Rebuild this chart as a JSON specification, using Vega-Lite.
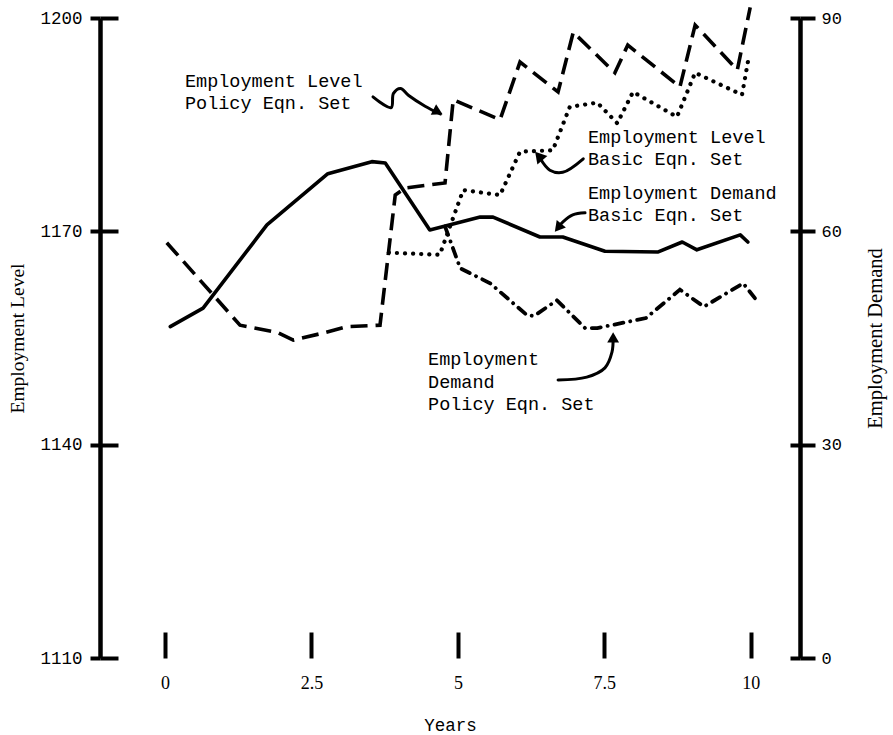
{
  "$schema": "https://vega.github.io/schema/vega-lite/v6.json",
  "width": 700,
  "height": 640,
  "autosize": {"type": "none"},
  "padding": {"left": 100, "top": 18, "right": 93, "bottom": 77},
  "background": "white",
  "config": {
    "view": {"stroke": null},
    "axis": {"grid": false, "domainColor": "black", "tickColor": "black", "labelColor": "black", "titleColor": "black"}
  },
  "datasets": {
    "lines": [
      {"series": "LP", "i": 0, "year": 0.03, "value": 1168.4},
      {"series": "LP", "i": 1, "year": 1.28, "value": 1156.8},
      {"series": "LP", "i": 2, "year": 1.91, "value": 1155.8},
      {"series": "LP", "i": 3, "year": 2.19, "value": 1154.7},
      {"series": "LP", "i": 4, "year": 2.70, "value": 1155.7},
      {"series": "LP", "i": 5, "year": 3.11, "value": 1156.6},
      {"series": "LP", "i": 6, "year": 3.67, "value": 1156.8},
      {"series": "LP", "i": 7, "year": 3.93, "value": 1175.1},
      {"series": "LP", "i": 8, "year": 4.10, "value": 1176.1},
      {"series": "LP", "i": 9, "year": 4.78, "value": 1176.8},
      {"series": "LP", "i": 10, "year": 4.92, "value": 1188.5},
      {"series": "LP", "i": 11, "year": 5.72, "value": 1185.7},
      {"series": "LP", "i": 12, "year": 6.06, "value": 1193.8},
      {"series": "LP", "i": 13, "year": 6.71, "value": 1189.6},
      {"series": "LP", "i": 14, "year": 6.97, "value": 1198.0},
      {"series": "LP", "i": 15, "year": 7.68, "value": 1192.3},
      {"series": "LP", "i": 16, "year": 7.90, "value": 1196.2},
      {"series": "LP", "i": 17, "year": 8.79, "value": 1190.3},
      {"series": "LP", "i": 18, "year": 9.05, "value": 1199.0},
      {"series": "LP", "i": 19, "year": 9.77, "value": 1192.7},
      {"series": "LP", "i": 20, "year": 9.99, "value": 1201.5},
      {"series": "LB", "i": 0, "year": 3.82, "value": 1167.0},
      {"series": "LB", "i": 1, "year": 4.69, "value": 1166.7},
      {"series": "LB", "i": 2, "year": 5.09, "value": 1175.8},
      {"series": "LB", "i": 3, "year": 5.72, "value": 1175.1},
      {"series": "LB", "i": 4, "year": 6.06, "value": 1181.2},
      {"series": "LB", "i": 5, "year": 6.62, "value": 1181.4},
      {"series": "LB", "i": 6, "year": 6.91, "value": 1187.5},
      {"series": "LB", "i": 7, "year": 7.38, "value": 1188.1},
      {"series": "LB", "i": 8, "year": 7.72, "value": 1185.2},
      {"series": "LB", "i": 9, "year": 7.99, "value": 1189.6},
      {"series": "LB", "i": 10, "year": 8.74, "value": 1186.1},
      {"series": "LB", "i": 11, "year": 9.05, "value": 1192.3},
      {"series": "LB", "i": 12, "year": 9.85, "value": 1189.2},
      {"series": "LB", "i": 13, "year": 9.95, "value": 1193.8},
      {"series": "DB", "i": 0, "year": 0.09, "value": 46.6},
      {"series": "DB", "i": 1, "year": 0.65, "value": 49.2},
      {"series": "DB", "i": 2, "year": 1.74, "value": 60.9},
      {"series": "DB", "i": 3, "year": 2.78, "value": 68.1},
      {"series": "DB", "i": 4, "year": 3.53, "value": 69.8},
      {"series": "DB", "i": 5, "year": 3.76, "value": 69.6},
      {"series": "DB", "i": 6, "year": 4.52, "value": 60.2},
      {"series": "DB", "i": 7, "year": 5.38, "value": 62.0},
      {"series": "DB", "i": 8, "year": 5.60, "value": 62.0},
      {"series": "DB", "i": 9, "year": 6.40, "value": 59.2},
      {"series": "DB", "i": 10, "year": 6.79, "value": 59.2},
      {"series": "DB", "i": 11, "year": 7.51, "value": 57.2},
      {"series": "DB", "i": 12, "year": 8.42, "value": 57.1},
      {"series": "DB", "i": 13, "year": 8.83, "value": 58.5},
      {"series": "DB", "i": 14, "year": 9.08, "value": 57.4},
      {"series": "DB", "i": 15, "year": 9.82, "value": 59.5},
      {"series": "DB", "i": 16, "year": 9.95, "value": 58.5},
      {"series": "DP", "i": 0, "year": 4.78, "value": 60.7},
      {"series": "DP", "i": 1, "year": 5.04, "value": 54.8},
      {"series": "DP", "i": 2, "year": 5.55, "value": 52.7},
      {"series": "DP", "i": 3, "year": 6.18, "value": 48.2},
      {"series": "DP", "i": 4, "year": 6.30, "value": 48.1},
      {"series": "DP", "i": 5, "year": 6.69, "value": 50.3},
      {"series": "DP", "i": 6, "year": 7.17, "value": 46.4},
      {"series": "DP", "i": 7, "year": 7.38, "value": 46.4},
      {"series": "DP", "i": 8, "year": 8.21, "value": 47.8},
      {"series": "DP", "i": 9, "year": 8.79, "value": 51.8},
      {"series": "DP", "i": 10, "year": 9.20, "value": 49.4},
      {"series": "DP", "i": 11, "year": 9.87, "value": 52.7},
      {"series": "DP", "i": 12, "year": 10.07, "value": 50.6}
    ],
    "arrows": [
      {"arrow": "a1", "i": 0, "year": 3.55, "value": 1188.9},
      {"arrow": "a1", "i": 1, "year": 3.86, "value": 1187.4},
      {"arrow": "a1", "i": 2, "year": 3.90, "value": 1189.4},
      {"arrow": "a1", "i": 3, "year": 4.02, "value": 1190.1},
      {"arrow": "a1", "i": 4, "year": 4.16, "value": 1189.1},
      {"arrow": "a1", "i": 5, "year": 4.44, "value": 1187.6},
      {"arrow": "a1", "i": 6, "year": 4.70, "value": 1186.5},
      {"arrow": "a2", "i": 0, "year": 7.14, "value": 1180.2},
      {"arrow": "a2", "i": 1, "year": 6.79, "value": 1178.3},
      {"arrow": "a2", "i": 2, "year": 6.57, "value": 1178.6},
      {"arrow": "a2", "i": 3, "year": 6.40, "value": 1180.3},
      {"arrow": "a3", "i": 0, "year": 7.17, "value": 1172.6},
      {"arrow": "a3", "i": 1, "year": 6.96, "value": 1172.3},
      {"arrow": "a3", "i": 2, "year": 6.79, "value": 1171.3},
      {"arrow": "a3", "i": 3, "year": 6.70, "value": 1170.5},
      {"arrow": "a4", "i": 0, "year": 6.71, "value": 1149.1},
      {"arrow": "a4", "i": 1, "year": 7.20, "value": 1149.5},
      {"arrow": "a4", "i": 2, "year": 7.51, "value": 1150.8},
      {"arrow": "a4", "i": 3, "year": 7.63, "value": 1153.0},
      {"arrow": "a4", "i": 4, "year": 7.65, "value": 1155.1}
    ],
    "heads": [
      {"arrow": "a1", "year": 4.66, "value": 1186.8},
      {"arrow": "a2", "year": 6.38, "value": 1180.6},
      {"arrow": "a3", "year": 6.71, "value": 1170.5},
      {"arrow": "a4", "year": 7.65, "value": 1155.1}
    ],
    "notes": [
      {"year": 0.34, "value": 1191.2, "label": "Employment Level"},
      {"year": 0.34, "value": 1188.1, "label": "Policy Eqn. Set"},
      {"year": 7.22, "value": 1183.3, "label": "Employment Level"},
      {"year": 7.22, "value": 1180.2, "label": "Basic Eqn. Set"},
      {"year": 7.22, "value": 1175.4, "label": "Employment Demand"},
      {"year": 7.22, "value": 1172.3, "label": "Basic Eqn. Set"},
      {"year": 4.49, "value": 1152.1, "label": "Employment"},
      {"year": 4.49, "value": 1148.8, "label": "Demand"},
      {"year": 4.49, "value": 1145.7, "label": "Policy Eqn. Set"}
    ]
  },
  "encoding": {
    "x": {
      "field": "year",
      "type": "quantitative",
      "scale": {"domain": [-1.11, 10.84], "nice": false, "zero": false},
      "axis": {
        "values": [0, 2.5, 5, 7.5, 10],
        "format": ".1~f",
        "domain": false,
        "tickSize": -26,
        "tickWidth": 4,
        "labelFont": "Liberation Serif",
        "labelFontSize": 18,
        "labelPadding": 42,
        "labelFlush": false,
        "title": "Years",
        "titleFont": "Liberation Mono",
        "titleFontSize": 17.5,
        "titleFontWeight": "normal",
        "titlePadding": 24
      }
    }
  },
  "layer": [
    {
      "layer": [
        {
          "data": {"name": "lines"},
          "transform": [{"filter": "datum.series === 'LP'"}],
          "mark": {"type": "line", "stroke": "black", "strokeWidth": 3.6, "strokeDash": [17, 8]},
          "encoding": {
            "y": {
              "field": "value", "type": "quantitative",
              "scale": {"domain": [1110, 1200], "nice": false, "zero": false},
              "axis": {
                "orient": "left",
                "values": [1110, 1140, 1170, 1200],
                "format": "d",
                "domainWidth": 4.5,
                "tickSize": 10,
                "tickWidth": 4,
                "labelFont": "Liberation Mono",
                "labelFontSize": 17.5,
                "labelPadding": 8,
                "title": "Employment Level",
                "titleFont": "Liberation Serif",
                "titleFontSize": 19.5,
                "titleFontWeight": "normal",
                "titlePadding": 12
              }
            },
            "order": {"field": "i", "type": "quantitative"}
          }
        },
        {
          "data": {"name": "lines"},
          "transform": [{"filter": "datum.series === 'LB'"}],
          "mark": {"type": "line", "stroke": "black", "strokeWidth": 4.2, "strokeDash": [0.1, 8], "strokeCap": "round"},
          "encoding": {
            "y": {
              "field": "value", "type": "quantitative",
              "scale": {"domain": [1110, 1200], "nice": false, "zero": false},
              "axis": {
                "orient": "left",
                "values": [1110, 1140, 1170, 1200],
                "domain": false,
                "labels": false,
                "tickSize": -18,
                "tickWidth": 4,
                "title": null
              }
            },
            "order": {"field": "i", "type": "quantitative"}
          }
        },
        {
          "data": {"name": "arrows"},
          "mark": {"type": "line", "stroke": "black", "strokeWidth": 3, "interpolate": "catmull-rom", "strokeCap": "round"},
          "encoding": {
            "y": {"field": "value", "type": "quantitative", "scale": {"domain": [1110, 1200], "nice": false, "zero": false}, "axis": null},
            "detail": {"field": "arrow"},
            "order": {"field": "i", "type": "quantitative"}
          }
        },
        {
          "data": {"name": "heads"},
          "transform": [{"filter": "datum.arrow === 'a1'"}],
          "mark": {"type": "point", "shape": "triangle-right", "filled": true, "color": "black", "opacity": 1, "size": 140, "angle": 27},
          "encoding": {"y": {"field": "value", "type": "quantitative", "scale": {"domain": [1110, 1200], "nice": false, "zero": false}, "axis": null}}
        },
        {
          "data": {"name": "heads"},
          "transform": [{"filter": "datum.arrow === 'a2'"}],
          "mark": {"type": "point", "shape": "triangle-right", "filled": true, "color": "black", "opacity": 1, "size": 170, "angle": 230},
          "encoding": {"y": {"field": "value", "type": "quantitative", "scale": {"domain": [1110, 1200], "nice": false, "zero": false}, "axis": null}}
        },
        {
          "data": {"name": "heads"},
          "transform": [{"filter": "datum.arrow === 'a3'"}],
          "mark": {"type": "point", "shape": "triangle-right", "filled": true, "color": "black", "opacity": 1, "size": 140, "angle": 129},
          "encoding": {"y": {"field": "value", "type": "quantitative", "scale": {"domain": [1110, 1200], "nice": false, "zero": false}, "axis": null}}
        },
        {
          "data": {"name": "heads"},
          "transform": [{"filter": "datum.arrow === 'a4'"}],
          "mark": {"type": "point", "shape": "triangle-right", "filled": true, "color": "black", "opacity": 1, "size": 140, "angle": 270},
          "encoding": {"y": {"field": "value", "type": "quantitative", "scale": {"domain": [1110, 1200], "nice": false, "zero": false}, "axis": null}}
        },
        {
          "data": {"name": "notes"},
          "mark": {"type": "text", "align": "left", "baseline": "middle", "font": "Liberation Mono", "fontSize": 18.5, "color": "black"},
          "encoding": {
            "y": {"field": "value", "type": "quantitative", "scale": {"domain": [1110, 1200], "nice": false, "zero": false}, "axis": null},
            "text": {"field": "label"}
          }
        }
      ],
      "resolve": {"axis": {"y": "independent"}}
    },
    {
      "layer": [
        {
          "data": {"name": "lines"},
          "transform": [{"filter": "datum.series === 'DB'"}],
          "mark": {"type": "line", "stroke": "black", "strokeWidth": 3.6, "strokeCap": "round", "strokeJoin": "round"},
          "encoding": {
            "y": {
              "field": "value", "type": "quantitative",
              "scale": {"domain": [0, 90], "nice": false, "zero": false},
              "axis": {
                "orient": "right",
                "values": [0, 30, 60, 90],
                "format": "d",
                "domainWidth": 4.5,
                "tickSize": 15,
                "tickWidth": 4,
                "labelFont": "Liberation Mono",
                "labelFontSize": 17,
                "labelPadding": 6,
                "title": "Employment Demand",
                "titleAngle": 270,
                "titleFont": "Liberation Serif",
                "titleFontSize": 20.5,
                "titleFontWeight": "normal",
                "titlePadding": 44
              }
            },
            "order": {"field": "i", "type": "quantitative"}
          }
        },
        {
          "data": {"name": "lines"},
          "transform": [{"filter": "datum.series === 'DP'"}],
          "mark": {"type": "line", "stroke": "black", "strokeWidth": 3.8, "strokeDash": [9, 7, 0.1, 7], "strokeCap": "round"},
          "encoding": {
            "y": {
              "field": "value", "type": "quantitative",
              "scale": {"domain": [0, 90], "nice": false, "zero": false},
              "axis": {
                "orient": "right",
                "values": [0, 30, 60, 90],
                "domain": false,
                "labels": false,
                "tickSize": -10,
                "tickWidth": 4,
                "title": null
              }
            },
            "order": {"field": "i", "type": "quantitative"}
          }
        }
      ],
      "resolve": {"axis": {"y": "independent"}}
    }
  ],
  "resolve": {"scale": {"y": "independent"}}
}
